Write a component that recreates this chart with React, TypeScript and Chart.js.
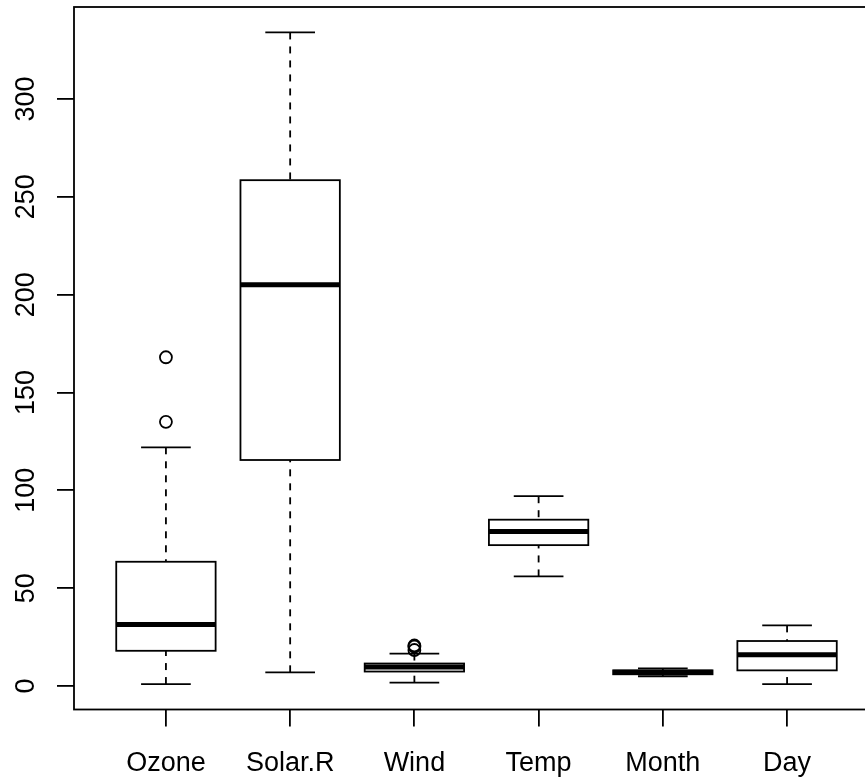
import React, { useEffect, useRef } from "react";
import { Chart, registerables } from "chart.js";

Chart.register(...registerables);

// airquality variables, five-number summaries per column
const categories = ["Ozone", "Solar.R", "Wind", "Temp", "Month", "Day"];
const whiskerLow = [1, 7, 1.7, 56, 5, 1];
const lowerHinge = [18, 115.5, 7.4, 72, 6, 8];
const medians = [31.5, 205, 9.7, 79, 7, 16];
const upperHinge = [63.5, 258.5, 11.5, 85, 8, 23];
const whiskerHigh = [122, 334, 16.6, 97, 9, 31];

// points beyond the whiskers: column position and value
const outlierGroup = [1, 1, 3, 3, 3];
const outlierValues = [135, 168, 20.1, 18.4, 20.7];

const yTickValues = [0, 50, 100, 150, 200, 250, 300];

const LINE_W = 1.8;
const FONT = '27px "Liberation Sans", Arial, Helvetica, sans-serif';

const boxPlugin = {
  id: "boxPlot",
  beforeDatasetsDraw(chart: any) {
    const { ctx } = chart;
    const x = chart.scales.x;
    const y = chart.scales.y;
    const seg = (x1: number, y1: number, x2: number, y2: number) => {
      ctx.beginPath();
      ctx.moveTo(x1, y1);
      ctx.lineTo(x2, y2);
      ctx.stroke();
    };
    ctx.save();
    ctx.strokeStyle = "#000";
    ctx.lineCap = "butt";
    categories.forEach((_, i) => {
      const pos = i + 1;
      const cx = x.getPixelForValue(pos);
      const bl = x.getPixelForValue(pos - 0.4);
      const br = x.getPixelForValue(pos + 0.4);
      const sl = x.getPixelForValue(pos - 0.2);
      const sr = x.getPixelForValue(pos + 0.2);
      const yLo = y.getPixelForValue(whiskerLow[i]);
      const yQ1 = y.getPixelForValue(lowerHinge[i]);
      const yMed = y.getPixelForValue(medians[i]);
      const yQ3 = y.getPixelForValue(upperHinge[i]);
      const yHi = y.getPixelForValue(whiskerHigh[i]);

      // dashed whiskers, drawn from the whisker end toward the hinge
      ctx.lineWidth = LINE_W;
      ctx.setLineDash([7, 7]);
      seg(cx, yLo, cx, yQ1);
      seg(cx, yHi, cx, yQ3);
      ctx.setLineDash([]);

      // staples
      seg(sl, yLo, sr, yLo);
      seg(sl, yHi, sr, yHi);

      // box
      ctx.strokeRect(bl, yQ3, br - bl, yQ1 - yQ3);

      // median
      ctx.lineWidth = 5;
      seg(bl, yMed, br, yMed);
    });
    ctx.restore();
  },
  afterDraw(chart: any) {
    const { ctx, chartArea } = chart;
    const x = chart.scales.x;
    const y = chart.scales.y;
    ctx.save();
    // plot frame
    ctx.strokeStyle = "#000";
    ctx.lineWidth = LINE_W;
    ctx.strokeRect(
      chartArea.left,
      chartArea.top,
      chartArea.right - chartArea.left,
      chartArea.bottom - chartArea.top
    );

    ctx.fillStyle = "#000";
    ctx.font = FONT;
    ctx.textAlign = "center";
    ctx.textBaseline = "alphabetic";

    // y tick labels, rotated to read upward
    y.ticks.forEach((t: any) => {
      const py = y.getPixelForValue(t.value);
      ctx.save();
      ctx.translate(chartArea.left - 40, py);
      ctx.rotate(-Math.PI / 2);
      ctx.fillText(String(t.value), 0, 0);
      ctx.restore();
    });

    // category labels under the x ticks
    x.ticks.forEach((t: any) => {
      const px = x.getPixelForValue(t.value);
      ctx.fillText(categories[t.value - 1], px, chartArea.bottom + 61);
    });
    ctx.restore();
  },
};

export default function App() {
  const canvasRef = useRef<HTMLCanvasElement | null>(null);

  useEffect(() => {
    const canvas = canvasRef.current;
    if (!canvas) return;
    const chart = new Chart(canvas, {
      type: "scatter",
      data: {
        datasets: [
          {
            data: outlierGroup.map((g, i) => ({ x: g, y: outlierValues[i] })),
            pointStyle: "circle",
            pointRadius: 6,
            pointHoverRadius: 6,
            borderColor: "#000",
            backgroundColor: "rgba(0,0,0,0)",
            borderWidth: LINE_W,
            clip: false,
          },
        ],
      },
      options: {
        responsive: false,
        maintainAspectRatio: false,
        animation: false,
        events: [],
        layout: {
          autoPadding: false,
          padding: { top: 7, left: 0, right: 0, bottom: 0 },
        },
        plugins: {
          legend: { display: false },
          tooltip: { enabled: false },
        },
        scales: {
          x: {
            type: "linear",
            min: 0.26,
            max: 6.74,
            afterBuildTicks: (s: any) => {
              s.ticks = categories.map((_, i) => ({ value: i + 1 }));
            },
            afterFit: (s: any) => {
              s.height = 67.5;
            },
            ticks: { display: false },
            grid: {
              drawOnChartArea: false,
              drawTicks: true,
              tickLength: 17,
              color: "#000",
              lineWidth: LINE_W,
            },
            border: { display: false },
          },
          y: {
            type: "linear",
            min: -12,
            max: 347,
            afterBuildTicks: (s: any) => {
              s.ticks = yTickValues.map((v) => ({ value: v }));
            },
            afterFit: (s: any) => {
              s.width = 74;
            },
            ticks: { display: false },
            grid: {
              drawOnChartArea: false,
              drawTicks: true,
              tickLength: 17,
              color: "#000",
              lineWidth: LINE_W,
            },
            border: { display: false },
          },
        },
      },
      plugins: [boxPlugin],
    });
    return () => chart.destroy();
  }, []);

  return (
    <div
      style={{
        position: "absolute",
        left: 0,
        top: 0,
        width: 865,
        height: 777,
        overflow: "hidden",
        background: "#fff",
      }}
    >
      <canvas ref={canvasRef} width={879} height={777} style={{ display: "block" }} />
    </div>
  );
}
